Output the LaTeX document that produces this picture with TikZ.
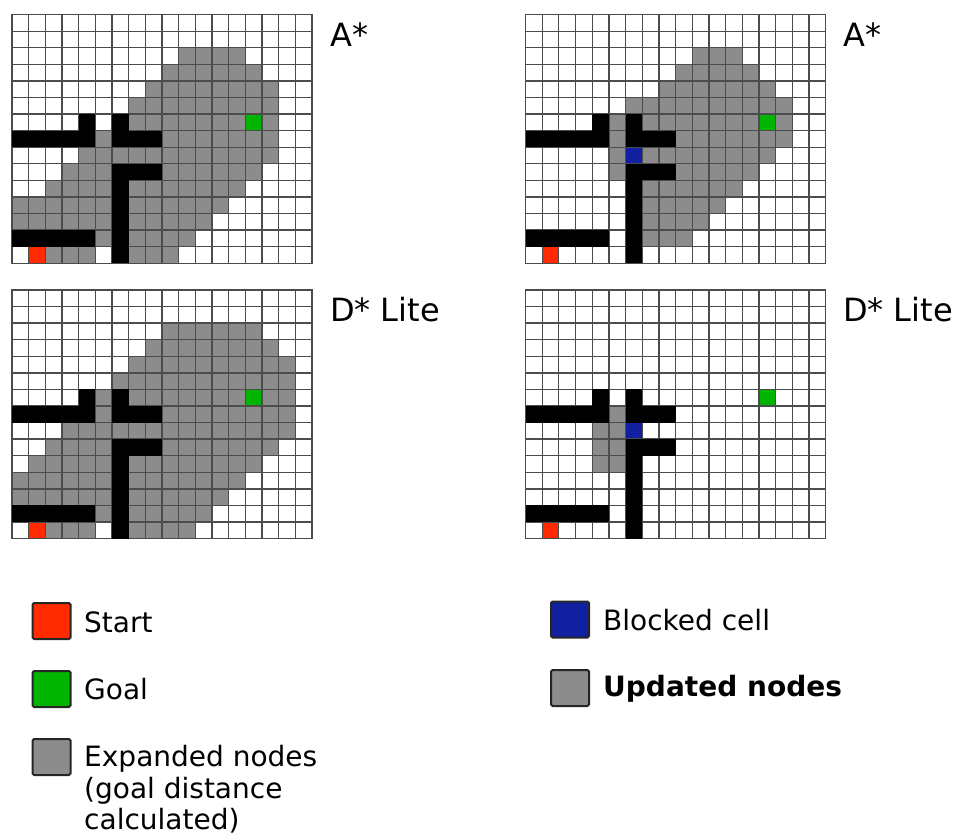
\documentclass[tikz,border=0pt]{standalone}
\usepackage{fontspec}
\setmainfont{DejaVu Sans}
\usepackage{tikz}
\usetikzlibrary{positioning}
\usepackage{xcolor}
\definecolor{startred}{HTML}{FF2A00}
\definecolor{goalgreen}{HTML}{00B400}
\definecolor{blockblue}{HTML}{1020A0}
\definecolor{expgray}{HTML}{8C8C8C}

% one 18x15 map: #1 origin, #2 grey cells as row/from/to, #3 extra cells
\newcommand{\gridmap}[3]{%
  \begin{scope}[shift={#1}, x=16.67pt, y=-16.57pt]
    \fill[white] (0,0) rectangle (18,15);
    \foreach \r/\a/\b in {#2}
      \fill[expgray] (\a,\r) rectangle (\b+1,\r+1);
    \fill[startred] (1,14) rectangle (2,15);
    \fill[goalgreen] (14,6) rectangle (15,7);
    #3
    \foreach \i in {0,...,18}
      \draw[gridline] (\i,0) -- (\i,15);
    \foreach \j in {0,...,15}
      \draw[gridline] (0,\j) -- (18,\j);
    \foreach \r/\a/\b in {6/4/4, 6/6/6, 7/0/4, 7/6/8, 9/6/8, 10/6/6, 11/6/6,
                          12/6/6, 13/0/4, 13/6/6, 14/6/6}
      \fill[black] (\a,\r) rectangle (\b+1,\r+1);
  \end{scope}}

\begin{document}
\begin{tikzpicture}[
  x=1pt, y=-1pt,
  gridline/.style={draw=black!70, line width=1.3pt, line cap=rect},
  title/.style={font=\fontsize{32}{38}\selectfont, inner sep=0pt, anchor=base west},
  keybox/.style={draw=black!85, line width=2pt, rounded corners=1.5pt,
                 minimum width=38pt, minimum height=36pt, inner sep=0pt},
  keytext/.style={font=\fontsize{28}{31.5}\selectfont, inner sep=0pt, anchor=base west}
]
  \useasboundingbox (0,0) rectangle (968,836);

  % A* on the first map
  \gridmap{(12,14.7)}{2/10/13, 3/9/14, 4/8/15, 5/7/15, 6/7/15, 7/5/5, 7/9/15,
    8/4/15, 9/3/5, 9/9/14, 10/2/5, 10/7/13, 11/0/5, 11/7/12, 12/0/5, 12/7/11,
    13/5/5, 13/7/10, 14/2/4, 14/7/9}{}

  % A* after the cell is blocked
  \gridmap{(525.5,14.7)}{2/10/12, 3/9/13, 4/8/14, 5/6/15, 6/5/5, 6/7/15, 7/5/5,
    7/9/15, 8/5/5, 8/7/14, 9/5/5, 9/9/13, 10/7/12, 11/7/11, 12/7/10, 13/7/9}
    {\fill[blockblue] (6,8) rectangle (7,9);}

  % D* Lite on the first map
  \gridmap{(12,290)}{2/9/14, 3/8/15, 4/7/16, 5/6/16, 6/5/5, 6/7/16, 7/5/5,
    7/9/16, 8/3/16, 9/2/5, 9/9/15, 10/1/5, 10/7/14, 11/0/5, 11/7/13, 12/0/5,
    12/7/12, 13/5/5, 13/7/11, 14/2/4, 14/7/10}{}

  % D* Lite after the cell is blocked
  \gridmap{(525.5,290)}{7/5/5, 8/4/5, 9/4/5, 10/4/5}
    {\fill[blockblue] (6,8) rectangle (7,9);}

  \node[title] (tastar1) at (330,46.7)  {A*};
  \node[title] (tastar2) at (843,46.7)  {A*};
  \node[title] (tdlite1) at (330,321.7) {D* Lite};
  \node[title] (tdlite2) at (843,321.7) {D* Lite};

  % legend
  \node[keybox, fill=startred]  (kstart) at (51.5,621) {};
  \node[keybox, fill=goalgreen] (kgoal)  at (51.5,689) {};
  \node[keybox, fill=expgray]   (kexp)   at (51.5,757) {};
  \node[keybox, fill=blockblue] (kblock) at (570,619.5) {};
  \node[keybox, fill=expgray]   (kupd)   at (570,688) {};

  \node[keytext] (tstart) at (84,632.3) {Start};
  \node[keytext] (tgoal)  at (84,699)   {Goal};
  \node[keytext, anchor=north west, align=left] (texp) at (84,745.4)
    {Expanded nodes\\(goal distance\\calculated)};
  \node[keytext] (tblock) at (603,630.7) {Blocked cell};
  \node[keytext] (tupd)   at (603,696)   {\bfseries Updated nodes};
\end{tikzpicture}
\end{document}
